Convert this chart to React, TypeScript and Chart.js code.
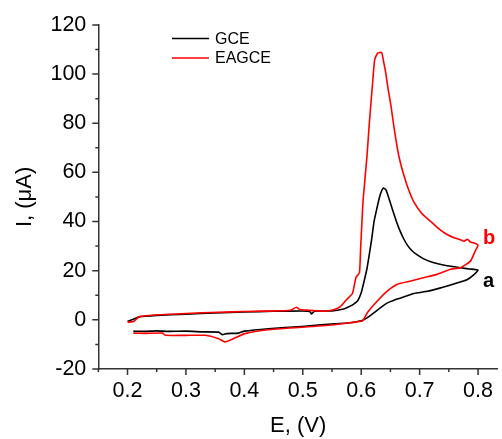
import React, { useEffect, useRef } from "react";
import { Chart, registerables } from "chart.js";

Chart.register(...registerables);

// GCE (curve a): cyclic voltammogram, forward then reverse scan
const gcePotential = [
  0.200, 0.210, 0.220, 0.250, 0.300, 0.350, 0.400, 0.450, 0.500, 0.512, 0.515, 0.520, 0.550, 0.570, 0.577,
  0.586, 0.594, 0.600, 0.605, 0.610, 0.614, 0.618, 0.622, 0.627, 0.631, 0.635, 0.638, 0.642, 0.645, 0.650,
  0.654, 0.660, 0.665, 0.672, 0.679, 0.687, 0.696, 0.707, 0.719, 0.733, 0.747, 0.770, 0.785, 0.800,
  0.792, 0.781, 0.764, 0.750, 0.736, 0.713, 0.690, 0.668, 0.655, 0.645, 0.632, 0.622, 0.610, 0.600, 0.577,
  0.554, 0.498, 0.441, 0.400, 0.390, 0.370, 0.362, 0.356, 0.330, 0.300, 0.270, 0.250, 0.230, 0.210,
];
const gceCurrent = [
  -0.6, 0.2, 1.2, 1.8, 2.3, 2.8, 3.2, 3.5, 3.6, 3.4, 2.4, 3.5, 3.6, 4.4, 5.1,
  6.2, 7.8, 11.0, 15.8, 21.0, 26.8, 33.0, 40.0, 45.5, 49.6, 52.5, 53.6, 53.0, 51.2, 47.5,
  44.5, 40.2, 37.0, 33.3, 30.4, 28.1, 26.4, 24.8, 23.6, 22.7, 22.0, 21.2, 20.7, 20.2,
  18.2, 16.3, 15.0, 14.0, 13.0, 11.6, 10.7, 8.9, 7.9, 6.9, 4.8, 2.9, 0.8, -0.4, -1.3,
  -1.6, -2.7, -3.6, -4.6, -5.4, -5.6, -6.0, -5.0, -4.9, -4.6, -4.7, -4.5, -4.7, -4.6,
];

// EAGCE (curve b)
const eagcePotential = [
  0.200, 0.211, 0.220, 0.254, 0.300, 0.356, 0.400, 0.469, 0.480, 0.489, 0.495, 0.503, 0.537, 0.553, 0.565,
  0.576, 0.585, 0.591, 0.597, 0.599, 0.603, 0.605, 0.610, 0.614, 0.620, 0.623, 0.628, 0.635, 0.638, 0.642,
  0.646, 0.651, 0.656, 0.662, 0.667, 0.673, 0.681, 0.690, 0.703, 0.719, 0.733, 0.747, 0.760, 0.770, 0.776,
  0.782, 0.787, 0.793, 0.800,
  0.795, 0.787, 0.770, 0.753, 0.730, 0.708, 0.685, 0.662, 0.645, 0.628, 0.611, 0.603, 0.600, 0.554, 0.498,
  0.441, 0.401, 0.381, 0.367, 0.356, 0.333, 0.300, 0.265, 0.260, 0.230, 0.210,
];
const eagceCurrent = [
  -1.0, -0.6, 1.3, 2.1, 2.6, 3.1, 3.4, 3.7, 4.0, 5.1, 4.2, 4.0, 3.5, 4.1, 5.5,
  8.5, 10.7, 17.2, 19.2, 29.0, 48.0, 53.4, 67.0, 80.3, 97.8, 105.8, 108.5, 108.8, 105.5, 100.5,
  94.0, 87.0, 78.5, 69.6, 64.0, 58.8, 53.0, 48.0, 43.5, 40.0, 37.0, 34.7, 33.3, 32.6, 32.0,
  32.8, 31.6, 31.3, 30.4,
  27.9, 23.9, 21.2, 20.6, 18.5, 17.2, 15.8, 14.5, 11.8, 7.8, 3.1, -0.3, -0.6, -2.0, -3.0,
  -4.0, -5.6, -7.7, -9.0, -7.7, -6.3, -6.3, -6.3, -5.4, -5.5, -5.4,
];

const seriesNames = ["GCE", "EAGCE"];
const curveLabels = ["a", "b"];
const xTickValues = [0.2, 0.3, 0.4, 0.5, 0.6, 0.7, 0.8];
const yTickValues = [-20, 0, 20, 40, 60, 80, 100, 120];

const FONT = "'Liberation Sans', Arial, sans-serif";
const AXIS_COLOR = "#333333";
const COLORS = ["#000000", "#ff0000"];

const toPoints = (xs: number[], ys: number[]) => xs.map((x, i) => ({ x, y: ys[i] }));

const decorPlugin = {
  id: "decor",
  afterDraw(chart: any) {
    const { ctx, chartArea, scales } = chart;
    const xs = scales.x;
    const ys = scales.y;
    ctx.save();
    // minor / major tick marks
    ctx.strokeStyle = AXIS_COLOR;
    ctx.lineWidth = 1.5;
    ctx.beginPath();
    for (let k = 0; k <= 13; k++) {
      const v = 0.15 + k * 0.05;
      if (v > xs.max + 1e-9) break;
      const px = xs.getPixelForValue(v);
      const major = Math.abs(Math.round(v * 10) - v * 10) < 1e-6;
      ctx.moveTo(px, chartArea.bottom);
      ctx.lineTo(px, chartArea.bottom + (major ? 6 : 3));
    }
    for (let v = -20; v <= 120; v += 10) {
      const py = ys.getPixelForValue(v);
      const major = v % 20 === 0;
      ctx.moveTo(chartArea.left, py);
      ctx.lineTo(chartArea.left - (major ? 6 : 3), py);
    }
    ctx.stroke();

    // legend
    const legendY = [38.5, 58];
    ctx.font = `16px ${FONT}`;
    ctx.textAlign = "left";
    ctx.textBaseline = "middle";
    seriesNames.forEach((name, i) => {
      ctx.strokeStyle = COLORS[i];
      ctx.lineWidth = 1.5;
      ctx.beginPath();
      ctx.moveTo(172, legendY[i]);
      ctx.lineTo(209, legendY[i]);
      ctx.stroke();
      ctx.fillStyle = "#000000";
      ctx.fillText(name, 215, legendY[i] + 1);
    });

    // curve labels a / b beside the end of each scan
    ctx.font = `bold 20px ${FONT}`;
    ctx.textBaseline = "alphabetic";
    const endA = gceCurrent[gcePotential.indexOf(0.8)];
    const endB = eagceCurrent[eagcePotential.indexOf(0.8)];
    const lx = xs.getPixelForValue(0.8) + 5;
    ctx.fillStyle = COLORS[0];
    ctx.fillText(curveLabels[0], lx, ys.getPixelForValue(endA) + 16.5);
    ctx.fillStyle = COLORS[1];
    ctx.fillText(curveLabels[1], lx, ys.getPixelForValue(endB) - 1);
    ctx.restore();
  },
};

export default function App() {
  const canvasRef = useRef<HTMLCanvasElement | null>(null);

  useEffect(() => {
    document.body.style.margin = "0";
    const canvas = canvasRef.current;
    if (!canvas) return;
    const chart = new Chart(canvas, {
      type: "scatter",
      data: {
        datasets: [
          {
            label: seriesNames[0],
            data: toPoints(gcePotential, gceCurrent),
            showLine: true,
            borderColor: COLORS[0],
            borderWidth: 1.6,
            pointRadius: 0,
            tension: 0.15,
            order: 1,
          },
          {
            label: seriesNames[1],
            data: toPoints(eagcePotential, eagceCurrent),
            showLine: true,
            borderColor: COLORS[1],
            borderWidth: 1.6,
            pointRadius: 0,
            tension: 0.15,
            order: 0,
          },
        ],
      },
      options: {
        responsive: false,
        animation: false,
        devicePixelRatio: 1,
        layout: { padding: { top: 22, right: 0, bottom: 0, left: 0 } },
        plugins: {
          legend: { display: false },
          tooltip: { enabled: false },
          title: { display: false },
        },
        scales: {
          x: {
            type: "linear",
            min: 0.15,
            max: 0.834,
            afterFit: (s: any) => {
              s.height = 70;
            },
            afterBuildTicks: (s: any) => {
              s.ticks = xTickValues.map((v) => ({ value: v }));
            },
            grid: { display: false, drawTicks: false, tickLength: 0 },
            border: { display: true, color: AXIS_COLOR, width: 1.5 },
            ticks: {
              padding: 9,
              color: "#000000",
              font: { family: FONT, size: 21.5 },
              maxRotation: 0,
              autoSkip: false,
              callback: (v: any) => Number(v).toFixed(1),
            },
            title: {
              display: true,
              text: "E, (V)",
              color: "#000000",
              font: { family: FONT, size: 22 },
              padding: { top: 0, bottom: 0 },
            },
          },
          y: {
            type: "linear",
            min: -20,
            max: 120,
            afterFit: (s: any) => {
              s.width = 98.3;
            },
            afterBuildTicks: (s: any) => {
              s.ticks = yTickValues.map((v) => ({ value: v }));
            },
            grid: { display: false, drawTicks: false, tickLength: 0 },
            border: { display: true, color: AXIS_COLOR, width: 1.5 },
            ticks: {
              padding: 12,
              color: "#000000",
              font: { family: FONT, size: 21.5 },
              autoSkip: false,
              callback: (v: any) => String(v),
            },
            title: {
              display: true,
              text: "I, (μA)",
              color: "#000000",
              font: { family: FONT, size: 22 },
              padding: { top: 12, bottom: 0 },
            },
          },
        },
      },
      plugins: [decorPlugin],
    });
    return () => chart.destroy();
  }, []);

  return (
    <div style={{ position: "absolute", left: 0, top: 0, width: 502, height: 439, background: "#ffffff" }}>
      <canvas ref={canvasRef} width={502} height={439} />
    </div>
  );
}
